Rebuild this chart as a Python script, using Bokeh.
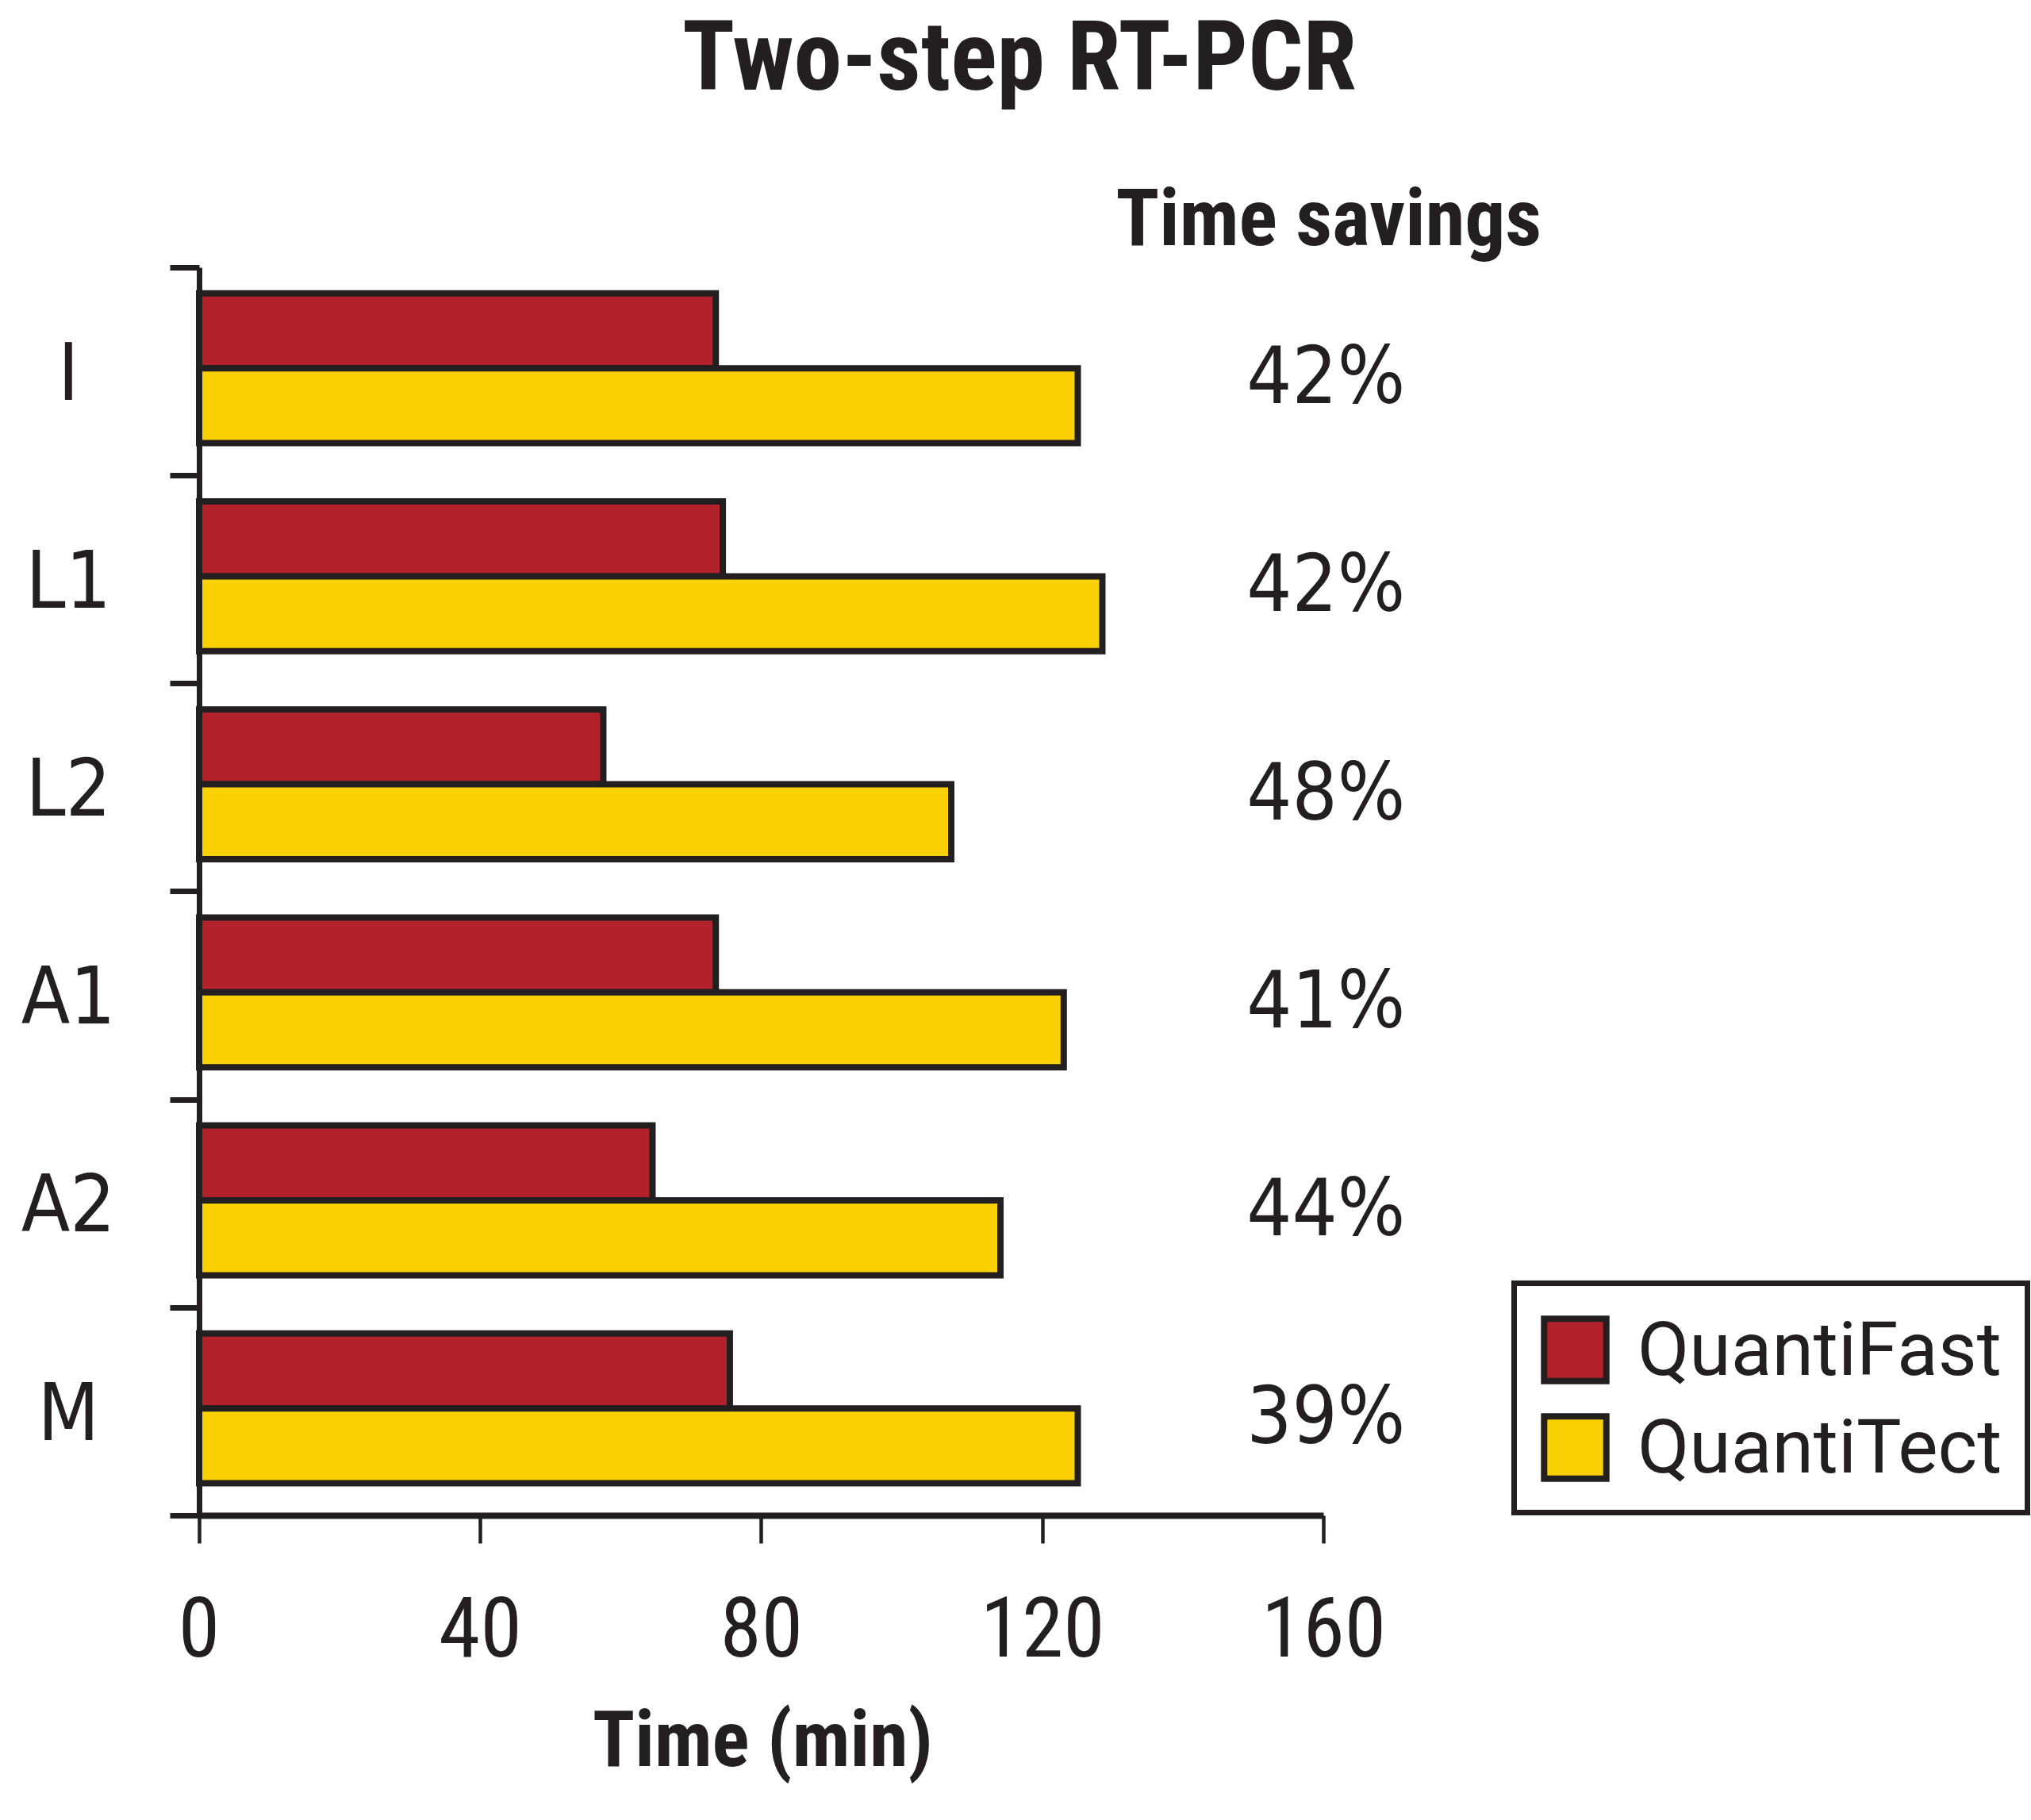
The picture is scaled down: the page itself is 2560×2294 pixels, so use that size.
from bokeh.plotting import figure
from bokeh.models import (ColumnDataSource, FixedTicker, LabelSet, Legend,
                          LegendItem, Range1d, LinearAxis)
from bokeh.core.properties import value
from bokeh.embed import file_html
from bokeh.resources import INLINE

# ---- data ----
categories = ["I", "L1", "L2", "A1", "A2", "M"]
quantifast = [73.5, 74.5, 57.5, 73.5, 64.5, 75.5]
quantitect = [125, 128.5, 107, 123, 114, 125]
savings = ["42%", "42%", "48%", "41%", "44%", "39%"]
x_ticks = [0, 40, 80, 120, 160]
series_names = ["QuantiFast", "QuantiTect"]
title_text = "Two-step RT-PCR"
x_title = "Time (min)"
savings_title = "Time savings"

# ---- styles ----
RED = "#B3222A"
YELLOW = "#F9D105"
INK = "#231F20"
FONT = "Roboto"
FONT_B = "Roboto Condensed"
FONT_P = "DejaVu Sans Condensed"

n = len(categories)
centers = [n - i - 0.5 for i in range(n)]
BAR_H = 0.36
GAP = 0.016

src = ColumnDataSource(dict(
    cat=categories,
    center=centers,
    y_fast=[c + GAP + BAR_H / 2 for c in centers],
    y_tect=[c + GAP - BAR_H / 2 for c in centers],
    fast=quantifast,
    tect=quantitect,
    savings=savings,
    cat_y=[c - 0.134 for c in centers],
    pct_y=[c - 0.152 for c in centers],
    cat_x=[-18.6] * n,
    pct_x=[160.3] * n,
))

W, H = 2560, 2294
PX_X = 8.86      # pixels per minute
PX_Y = 262.2     # pixels per category band
X0, Y0 = 250.5, 1910   # canvas position of the origin
x_range = Range1d(-X0 / PX_X, (W - X0) / PX_X)
y_range = Range1d(-(H - Y0) / PX_Y, Y0 / PX_Y)

p = figure(frame_width=W, frame_height=H,
           min_border_left=0, min_border_right=0,
           min_border_top=0, min_border_bottom=0,
           x_range=x_range, y_range=y_range,
           x_axis_location=None, y_axis_location=None,
           output_backend="svg", toolbar_location=None)
p.grid.visible = False
p.outline_line_color = None
p.background_fill_color = "white"
p.border_fill_color = "white"

r1 = p.hbar(y="y_fast", right="fast", left=0, height=BAR_H, source=src,
            fill_color=RED, line_color=INK, line_width=8, line_join="miter")
r2 = p.hbar(y="y_tect", right="tect", left=0, height=BAR_H, source=src,
            fill_color=YELLOW, line_color=INK, line_width=8, line_join="miter")

# x axis (fixed at y = 0)
xa = LinearAxis(fixed_location=0, ticker=FixedTicker(ticks=x_ticks), bounds=(0, 160))
xa.axis_line_width = 8
xa.axis_line_color = INK
xa.major_tick_line_width = 4.5
xa.major_tick_line_color = INK
xa.major_tick_out = 35
xa.major_tick_in = 0
xa.minor_tick_line_color = None
xa.major_label_text_font = FONT_B
xa.major_label_text_font_size = "106px"
xa.major_label_text_color = INK
xa.major_label_standoff = 66
p.add_layout(xa, "below")

# y axis (fixed at x = 0), band boundaries as ticks, no tick labels
y_ticks = list(range(n + 1))
ya = LinearAxis(fixed_location=0, ticker=FixedTicker(ticks=y_ticks), bounds=(0, n))
ya.axis_line_width = 7
ya.axis_line_color = INK
ya.major_tick_line_width = 7
ya.major_tick_line_color = INK
ya.major_tick_out = 37
ya.major_tick_in = 0
ya.minor_tick_line_color = None
ya.major_label_overrides = {t: "" for t in y_ticks}
p.add_layout(ya, "left")

# headings
head = ColumnDataSource(dict(
    x=[116.7, 80.2], y=[7.014, -1.075], text=[title_text, x_title],
    size=["122px", "98px"]))
p.text(x="x", y="y", text="text", source=head, text_font=value(FONT_B),
       text_font_style="bold", text_font_size="size", text_color=INK,
       text_align="center", text_baseline="alphabetic")
p.text(x=[160.7], y=[6.24], text=[savings_title], text_font=value(FONT_B),
       text_font_style="bold", text_font_size="101px", text_color=INK,
       text_align="center", text_baseline="alphabetic")

# category labels
p.add_layout(LabelSet(x="cat_x", y="cat_y", text="cat", source=src,
                      text_font=value(FONT_P), text_font_size="100px",
                      text_color=INK, text_align="center", text_baseline="alphabetic"))
# savings values
p.add_layout(LabelSet(x="pct_x", y="pct_y", text="savings", source=src,
                      text_font=value(FONT_P), text_font_size="100px",
                      text_color=INK, text_align="center", text_baseline="alphabetic"))

legend = Legend(items=[LegendItem(label=series_names[0], renderers=[r1]),
                       LegendItem(label=series_names[1], renderers=[r2])],
                location=(1905, 384), glyph_width=98, glyph_height=98,
                label_text_font=FONT, label_text_font_size="95px",
                label_text_color=INK, label_standoff=30, label_height=78,
                label_width=464,
                padding=24, spacing=12, margin=0,
                border_line_color=INK, border_line_width=7, border_line_alpha=1,
                background_fill_color="white", background_fill_alpha=1)
p.add_layout(legend)

open("out.html", "w").write(file_html(p, INLINE))
